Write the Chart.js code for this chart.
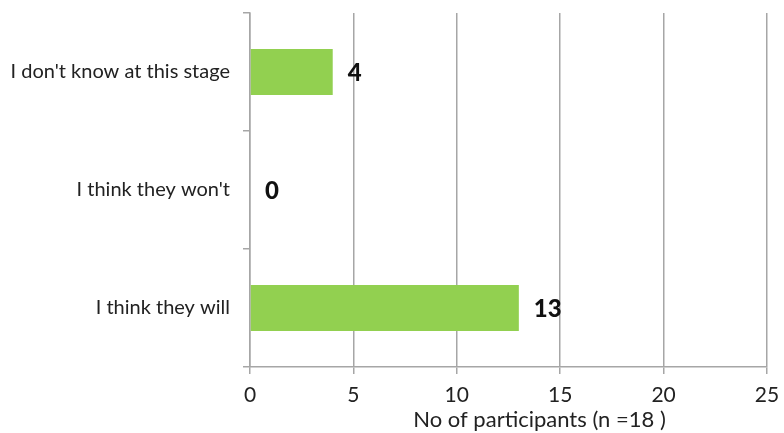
<!DOCTYPE html>
<html>
<head>
<meta charset="utf-8">
<script src="https://cdn.jsdelivr.net/npm/chart.js@4"></script>
<style>
    body { margin: 0; background: #fff; }
    #wrap { width: 784px; height: 433px; }
</style>
</head>
<body>
<div id="wrap"><canvas id="barChart"></canvas></div>
<script>
var categories = [
    "I don't know at this stage",
    "I think they won't",
    "I think they will"
];
var participants = [4, 0, 13];
var xTicks = [0, 5, 10, 15, 20, 25];
var xTitle = "No of participants (n =18 )";

var fontFamily = "Lato, 'Open Sans', sans-serif";
var gridColor = "#a6a6a6";

// value labels right of each bar
var valueLabels = {
    id: 'valueLabels',
    afterDatasetsDraw: function (chart) {
        var ctx = chart.ctx;
        var meta = chart.getDatasetMeta(0);
        var xScale = chart.scales.x;
        ctx.save();
        ctx.font = "900 24px " + fontFamily;
        ctx.fillStyle = "#111";
        ctx.textAlign = "left";
        ctx.textBaseline = "middle";
        meta.data.forEach(function (bar, i) {
            var v = participants[i];
            ctx.fillText(String(v), xScale.getPixelForValue(v) + 15, bar.y + 1);
        });
        ctx.restore();
    }
};

// axis title, sits a bit right of centre like the original
var axisTitle = {
    id: 'axisTitle',
    afterDraw: function (chart) {
        var ctx = chart.ctx;
        var area = chart.chartArea;
        ctx.save();
        ctx.font = "22px " + fontFamily;
        ctx.fillStyle = "#222";
        ctx.textAlign = "center";
        ctx.textBaseline = "alphabetic";
        ctx.fillText(xTitle, area.left + (area.right - area.left) * 0.56, 427);
        ctx.restore();
    }
};

var ctx2 = document.getElementById("barChart").getContext("2d");
new Chart(ctx2, {
    type: 'bar',
    data: {
        labels: categories,
        datasets: [{
            data: participants,
            backgroundColor: "#92d050",
            borderWidth: 0,
            categoryPercentage: 0.39,
            barPercentage: 1
        }]
    },
    options: {
        indexAxis: 'y',
        responsive: true,
        maintainAspectRatio: false,
        animation: false,
        layout: { padding: { top: 13, right: 17, left: 0, bottom: 0 } },
        plugins: {
            legend: { display: false },
            tooltip: { enabled: false }
        },
        scales: {
            x: {
                min: 0,
                max: 25,
                afterBuildTicks: function (scale) {
                    scale.ticks = xTicks.map(function (v) { return { value: v }; });
                },
                afterFit: function (scale) {
                    scale.height = 66;
                    scale.paddingLeft = 0;
                    scale.paddingRight = 0;
                },
                grid: { color: gridColor, lineWidth: 1.5, tickLength: 7 },
                border: { color: gridColor, width: 1.5 },
                ticks: {
                    color: "#222",
                    padding: 9,
                    font: { family: fontFamily, size: 21 }
                }
            },
            y: {
                afterFit: function (scale) {
                    scale.width = 250;
                    scale.paddingTop = 0;
                    scale.paddingBottom = 0;
                },
                grid: {
                    offset: true,
                    drawOnChartArea: false,
                    color: gridColor,
                    lineWidth: 1.5,
                    tickLength: 7
                },
                border: { color: gridColor, width: 1.5 },
                ticks: {
                    color: "#222",
                    padding: 13,
                    font: { family: fontFamily, size: 20 }
                }
            }
        }
    },
    plugins: [valueLabels, axisTitle]
});
</script>
</body>
</html>
